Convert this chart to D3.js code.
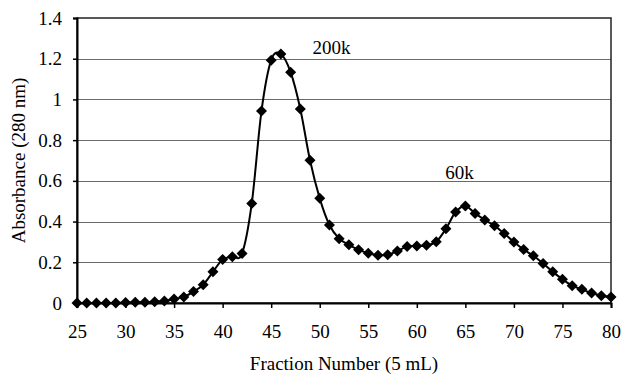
<!DOCTYPE html>
<html>
<head>
<meta charset="utf-8">
<script src="https://cdn.jsdelivr.net/npm/d3@7"></script>
<style>
  body { margin: 0; background: #fff; }
</style>
</head>
<body>
<div id="chart"></div>
<script>
const fractions = d3.range(25, 81);
const absorbance = [
  0, 0, 0, 0, 0, 0.003, 0.004, 0.004, 0.006, 0.01,
  0.02, 0.03, 0.056, 0.09, 0.153, 0.214, 0.227, 0.243, 0.489, 0.943,
  1.193, 1.223, 1.134, 0.953, 0.701, 0.514, 0.383, 0.316, 0.286, 0.262,
  0.245, 0.235, 0.237, 0.255, 0.278, 0.28, 0.284, 0.301, 0.365, 0.447,
  0.477, 0.44, 0.408, 0.38, 0.341, 0.3, 0.263, 0.232, 0.194, 0.153,
  0.117, 0.085, 0.067, 0.049, 0.036, 0.03
];
const xTicks = [25, 30, 35, 40, 45, 50, 55, 60, 65, 70, 75, 80];
const yTicks = [0, 0.2, 0.4, 0.6, 0.8, 1, 1.2, 1.4];
const peakLabels = [
  { text: "200k", x: 51.2, y: 1.225 },
  { text: "60k", x: 64.4, y: 0.607 }
];

const font = "Liberation Serif";
const width = 623, height = 375;
const margin = { top: 18, right: 12, bottom: 72, left: 77 };
const w = width - margin.left - margin.right;
const h = height - margin.top - margin.bottom;

const svg = d3.select("#chart").append("svg")
  .attr("width", width)
  .attr("height", height);

const g = svg.append("g")
  .attr("transform", `translate(${margin.left},${margin.top})`);

const x = d3.scaleLinear().domain([25, 80]).range([0, w]);
const y = d3.scaleLinear().domain([0, 1.4]).range([h, 0]);

// gridlines
g.append("g")
  .selectAll("line")
  .data(yTicks.filter(d => d > 0 && d < 1.4))
  .join("line")
  .attr("x1", 0).attr("x2", w)
  .attr("y1", d => Math.round(y(d)) + 0.5)
  .attr("y2", d => Math.round(y(d)) + 0.5)
  .attr("stroke", "#6a6a6a")
  .attr("stroke-width", 1.2);

// plot box
g.append("rect")
  .attr("x", 0).attr("y", 0)
  .attr("width", w).attr("height", h)
  .attr("fill", "none")
  .attr("stroke", "#222")
  .attr("stroke-width", 1.5);

const xAxis = g.append("g")
  .attr("transform", `translate(0,${h})`)
  .call(d3.axisBottom(x).tickValues(xTicks).tickSize(5).tickPadding(17).tickFormat(d3.format("d")));

const yAxis = g.append("g")
  .call(d3.axisLeft(y).tickValues(yTicks).tickSize(4).tickPadding(11).tickFormat(d => d));

[xAxis, yAxis].forEach(a => {
  a.attr("font-family", font).attr("font-size", 19);
  a.select(".domain").attr("stroke", "#000").attr("stroke-width", 2);
  a.selectAll(".tick line").attr("stroke", "#000").attr("stroke-width", 1.5);
  a.selectAll("text")
    .style("font-family", font)
    .style("font-size", "19px")
    .attr("fill", "#000");
});

const data = fractions.map((f, i) => ({ f, v: absorbance[i] }));

const line = d3.line()
  .x(d => x(d.f))
  .y(d => y(d.v))
  .curve(d3.curveCardinal.tension(0));

g.append("path")
  .datum(data)
  .attr("d", line)
  .attr("fill", "none")
  .attr("stroke", "#000")
  .attr("stroke-width", 2);

const diamond = "M0,-5.5L5.5,0L0,5.5L-5.5,0Z";
g.append("g")
  .selectAll("path")
  .data(data)
  .join("path")
  .attr("d", diamond)
  .attr("transform", d => `translate(${x(d.f)},${y(d.v)})`)
  .attr("fill", "#000");

g.selectAll(".peak")
  .data(peakLabels)
  .join("text")
  .attr("class", "peak")
  .attr("x", d => x(d.x))
  .attr("y", d => y(d.y))
  .attr("text-anchor", "middle")
  .style("font-family", font)
  .style("font-size", "19px")
  .text(d => d.text);

svg.append("text")
  .attr("x", 344)
  .attr("y", 370)
  .attr("text-anchor", "middle")
  .style("font-family", font)
  .style("font-size", "19px")
  .text("Fraction Number (5 mL)");

svg.append("text")
  .attr("transform", `translate(25,${margin.top + h / 2}) rotate(-90)`)
  .attr("text-anchor", "middle")
  .style("font-family", font)
  .style("font-size", "19px")
  .text("Absorbance (280 nm)");
</script>
</body>
</html>
